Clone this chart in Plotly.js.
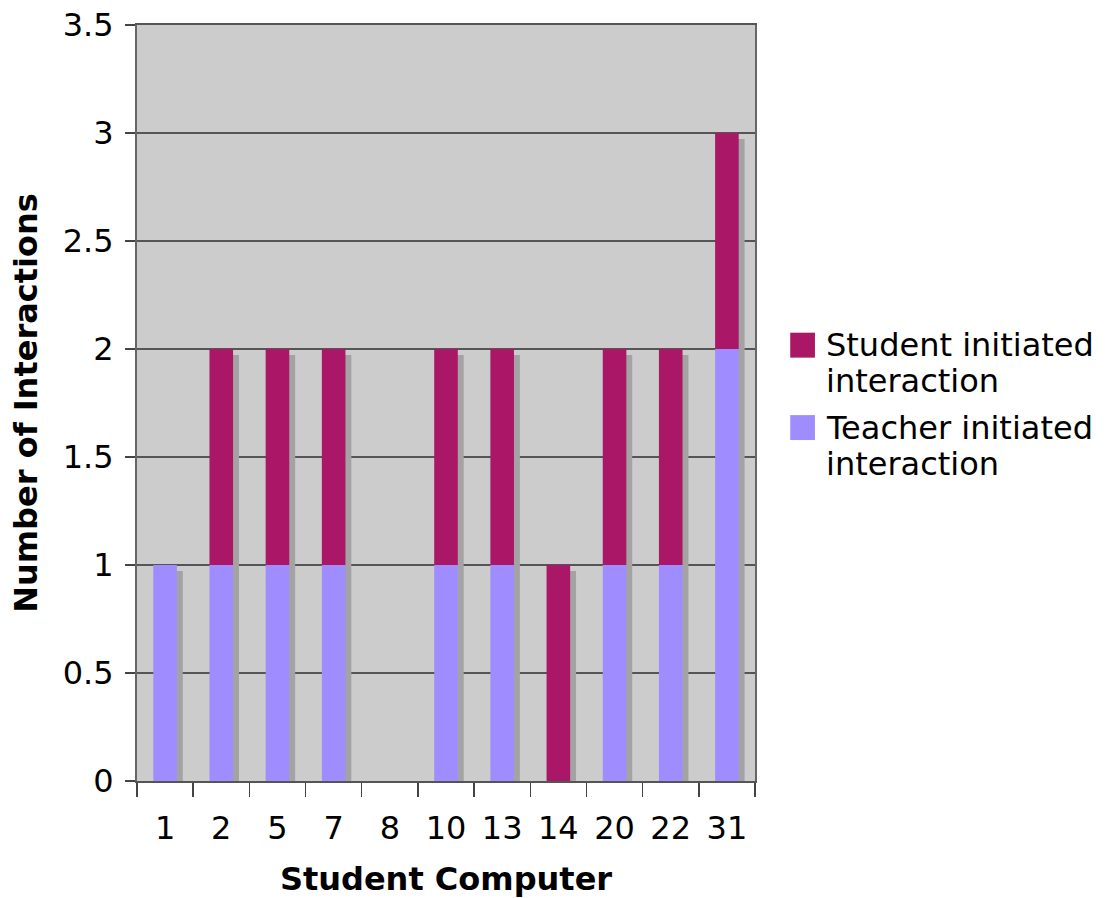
<!DOCTYPE html>
<html>
<head>
<meta charset="utf-8">
<script src="https://cdn.plot.ly/plotly-3.0.1.min.js"></script>
<style>
  html, body { margin: 0; padding: 0; background: #ffffff; }
  #chart { width: 1106px; height: 898px; }
</style>
</head>
<body>
<div id="chart"></div>
<script>
// Interactions per student computer, split by who started them
const computers = ['1', '2', '5', '7', '8', '10', '13', '14', '20', '22', '31'];
const teacherInitiated = [1, 1, 1, 1, 0, 1, 1, 0, 1, 1, 2];
const studentInitiated = [0, 1, 1, 1, 0, 1, 1, 1, 1, 1, 1];
const seriesLines = [['Student initiated', 'interaction'], ['Teacher initiated', 'interaction']];
const seriesColors = ['#a91766', '#9f8dff'];
const yTicks = [0, 0.5, 1, 1.5, 2, 2.5, 3, 3.5];

const FONT = 'DejaVu Sans, Verdana, sans-serif';
const FS = 32;
const barWidth = 0.42;
const shadowShift = 0.105;   // sideways shift of the drop shadow, in category units
const shadowDrop = 0.028;    // how far the shadow top sits below the bar top, in value units

const totals = computers.map((_, i) => teacherInitiated[i] + studentInitiated[i]);

const shadow = {
  type: 'bar',
  x: computers,
  y: totals.map(t => t > 0 ? t - shadowDrop : 0),
  width: barWidth,
  offset: -barWidth / 2 + shadowShift,
  marker: { color: '#a3a3a3', line: { width: 0 } },
  showlegend: false,
  hoverinfo: 'skip'
};

const teacher = {
  type: 'bar',
  name: seriesLines[1].join(' '),
  x: computers,
  y: teacherInitiated,
  width: barWidth,
  offset: -barWidth / 2,
  marker: { color: seriesColors[1], line: { width: 0 } },
  showlegend: false
};

const student = {
  type: 'bar',
  name: seriesLines[0].join(' '),
  x: computers,
  y: studentInitiated,
  base: teacherInitiated,
  width: barWidth,
  offset: -barWidth / 2,
  marker: { color: seriesColors[0], line: { width: 0 } },
  showlegend: false
};

// Legend drawn as squares + labels to the right of the plot
const legendShapes = [];
const legendNotes = [];
const legendTop = [0.593, 0.484];
const lineGap = 0.0476;
seriesLines.forEach((lines, i) => {
  legendShapes.push({
    type: 'rect', xref: 'paper', yref: 'paper',
    x0: 1.057, x1: 1.097,
    y0: legendTop[i] - 0.033, y1: legendTop[i],
    fillcolor: seriesColors[i], line: { width: 0 }
  });
  lines.forEach((line, j) => {
    legendNotes.push({
      xref: 'paper', yref: 'paper',
      x: 1.111, y: legendTop[i] - 0.0165 - j * lineGap,
      xanchor: 'left', yanchor: 'middle', align: 'left',
      text: line, showarrow: false,
      font: { family: FONT, size: FS, color: '#000000' }
    });
  });
});

const layout = {
  width: 1106,
  height: 898,
  margin: { l: 137, r: 351, t: 25, b: 117 },
  paper_bgcolor: '#ffffff',
  plot_bgcolor: '#cccccc',
  barmode: 'overlay',
  showlegend: false,
  font: { family: FONT, size: FS, color: '#000000' },
  xaxis: {
    type: 'category',
    categoryorder: 'array',
    categoryarray: computers,
    tickson: 'boundaries',
    ticks: 'outside',
    ticklen: 14,
    tickwidth: 1.5,
    tickcolor: '#444444',
    showgrid: false,
    showline: true,
    linecolor: '#555555',
    linewidth: 2,
    mirror: true,
    ticklabelstandoff: 18,
    tickfont: { family: FONT, size: FS, color: '#000000' },
    title: {
      text: '<b>Student Computer</b>',
      font: { family: FONT, size: FS, color: '#000000' },
      standoff: 23
    }
  },
  yaxis: {
    range: [0, 3.5],
    tickvals: yTicks,
    ticktext: yTicks.map(v => String(v)),
    ticks: 'outside',
    ticklen: 10,
    tickwidth: 1.5,
    tickcolor: '#444444',
    showgrid: true,
    gridcolor: '#555555',
    gridwidth: 1.3,
    zeroline: false,
    showline: true,
    linecolor: '#666666',
    linewidth: 2,
    mirror: true,
    ticklabelstandoff: 5,
    tickfont: { family: FONT, size: FS, color: '#000000' },
    title: {
      text: '<b>Number of Interactions</b>',
      font: { family: FONT, size: FS, color: '#000000' },
      standoff: 16
    }
  },
  shapes: legendShapes,
  annotations: legendNotes
};

Plotly.newPlot('chart', [shadow, teacher, student], layout, { displayModeBar: false, staticPlot: true });
</script>
</body>
</html>
